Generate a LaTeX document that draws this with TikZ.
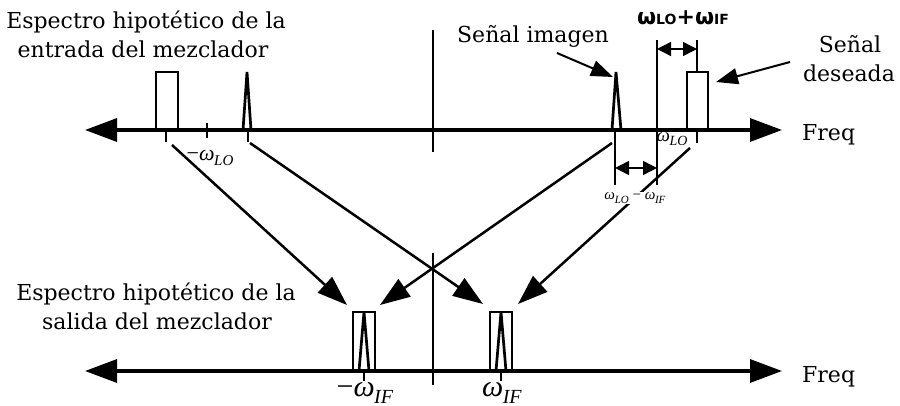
\documentclass[tikz,border=0pt]{standalone}
\usepackage{fontspec}
\setmainfont{DejaVu Serif}
\newfontfamily\grkfont{Liberation Serif}
\newfontfamily\sumfont{DejaVu Sans}
\usetikzlibrary{arrows.meta}
\newcommand\omlbl[4]{{\grkfont\fontsize{#3}{#3}\selectfont #1\textit{ω}\kern-0.02em\raisebox{-0.22em}{\fontsize{#4}{#4}\selectfont\textit{#2}}}}
\begin{document}
\begin{tikzpicture}[x=1pt,y=-1pt,
  axis/.style={line width=3.2pt, {Triangle[length=32pt,width=23pt]}-{Triangle[length=32pt,width=23pt]}},
  band/.style={line width=2.7pt, line join=miter},
  thinline/.style={line width=1.6pt},
  maparrow/.style={line width=2.5pt, -{Triangle[length=30pt,width=21pt]}},
  callout/.style={line width=2pt, -{Triangle[length=22pt,width=16pt]}},
  dimarrow/.style={line width=1.4pt, {Triangle[length=14pt,width=14pt]}-{Triangle[length=14pt,width=14pt]}},
  lbl/.style={font=\fontsize{22}{26}\selectfont, inner sep=0pt, anchor=base},
  ]
\useasboundingbox (0,0) rectangle (900,406);

% ---------- top spectrum ----------
\coordinate (tL) at (85,130);
\coordinate (tR) at (782,130);
\draw[axis] (tL) -- (tR);
\node[lbl, anchor=base west] (freqT) at (802,141) {Freq};

\coordinate (cT1) at (433,30);
\coordinate (cT2) at (433,152);
\draw[band] (cT1) -- (cT2);

% left band (rectangle) and tick
\draw[band] (156,130) -- (156,72) -- (178,72) -- (178,130);
\coordinate (rLt) at (166,130);
\coordinate (rLb) at (166,142);
\draw[band] (rLt) -- (rLb);
% -wLO tick
\draw[band] (207,123) -- (207,138);
\node[inner sep=0pt] (mwlo) at (210,158) {\omlbl{−}{LO}{22}{15}};
% left spike
\draw[band] (243,130) -- (247,72) -- (251,130);
\coordinate (sLt) at (248,130);
\coordinate (sLb) at (248,142);
\draw[band] (sLt) -- (sLb);

% right spike (image)
\draw[band] (612,130) -- (616,72) -- (621,130);
\coordinate (v1t) at (615,130);
\coordinate (v1b) at (615,185);
\draw[thinline] (v1t) -- (v1b);
\coordinate (v2t) at (657,40);
\coordinate (v2b) at (657,185);
\draw[thinline] (v2t) -- (v2b);
\coordinate (d1a) at (615,168);
\coordinate (d1b) at (657,168);
\draw[dimarrow] (d1a) -- (d1b);

% desired band
\draw[band] (687,130) -- (687,72) -- (708,72) -- (708,130);
\coordinate (v3t) at (697,40);
\coordinate (v3b) at (697,72);
\draw[thinline] (v3t) -- (v3b);
\coordinate (rRt) at (697,130);
\coordinate (rRb) at (697,143);
\draw[band] (rRt) -- (rRb);
\coordinate (d2a) at (657,49);
\coordinate (d2b) at (697,49);
\draw[dimarrow] (d2a) -- (d2b);
\node[inner sep=0pt, font=\fontsize{22}{24}\selectfont\sumfont\bfseries] (wsum) at (683,18)
  {ω{\fontsize{14}{16}\selectfont LO}+ω{\fontsize{14}{16}\selectfont IF}};
\node[inner sep=0pt] (wlo) at (672,139) {\omlbl{}{LO}{19}{14}};

% top texts
\node[lbl] (in1) at (146,29) {Espectro hipotético de la};
\node[lbl] (in2) at (143,58) {entrada del mezclador};
\node[lbl] (img) at (533,43) {Señal imagen};
\node[lbl] (des1) at (850,53) {Señal};
\node[lbl] (des2) at (849,82) {deseada};

% callouts
\coordinate (ci1) at (557,53);
\coordinate (ci2) at (613,77);
\draw[callout] (ci1) -- (ci2);
\coordinate (cd1) at (790,62);
\coordinate (cd2) at (716,82);
\draw[callout] (cd1) -- (cd2);

% ---------- bottom spectrum ----------
\coordinate (bL) at (85,371);
\coordinate (bR) at (782,371);
\draw[axis] (bL) -- (bR);
\node[lbl, anchor=base west] (freqB) at (802,382) {Freq};

\coordinate (cB1) at (433,253);
\coordinate (cB2) at (433,385);
\draw[band] (cB1) -- (cB2);

\draw[band] (353,371) -- (353,312) -- (375,312) -- (375,371);
\draw[band] (359,371) -- (364,312) -- (369,371);
\draw[band] (364,371) -- (364,381);
\draw[band] (490,371) -- (490,312) -- (512,312) -- (512,371);
\draw[band] (496,371) -- (501,312) -- (506,371);
\draw[band] (501,371) -- (501,381);
\node[inner sep=0pt] (mwif) at (365,393) {\omlbl{−}{IF}{30}{20}};
\node[inner sep=0pt] (wif) at (502,393) {\omlbl{}{IF}{30}{20}};

\node[lbl] (out1) at (156,300) {Espectro hipotético de la};
\node[lbl] (out2) at (157,330) {salida del mezclador};

% ---------- mapping arrows ----------
\coordinate (a1s) at (172,145);
\coordinate (a1e) at (347,305);
\coordinate (a2s) at (250,143);
\coordinate (a2e) at (483,304);
\coordinate (a3s) at (612,143);
\coordinate (a3e) at (380,305);
\coordinate (a4s) at (690,148);
\coordinate (a4e) at (518,304);
\draw[maparrow] (a1s) -- (a1e);
\draw[maparrow] (a2s) -- (a2e);
\draw[maparrow] (a3s) -- (a3e);
\draw[maparrow] (a4s) -- (a4e);

\node[fill=white, inner sep=1pt] (wdiff) at (635,198) {\omlbl{}{LO}{15}{11}{\grkfont\fontsize{15}{15}\selectfont\ −\ }\omlbl{}{IF}{15}{11}};
\end{tikzpicture}
\end{document}
